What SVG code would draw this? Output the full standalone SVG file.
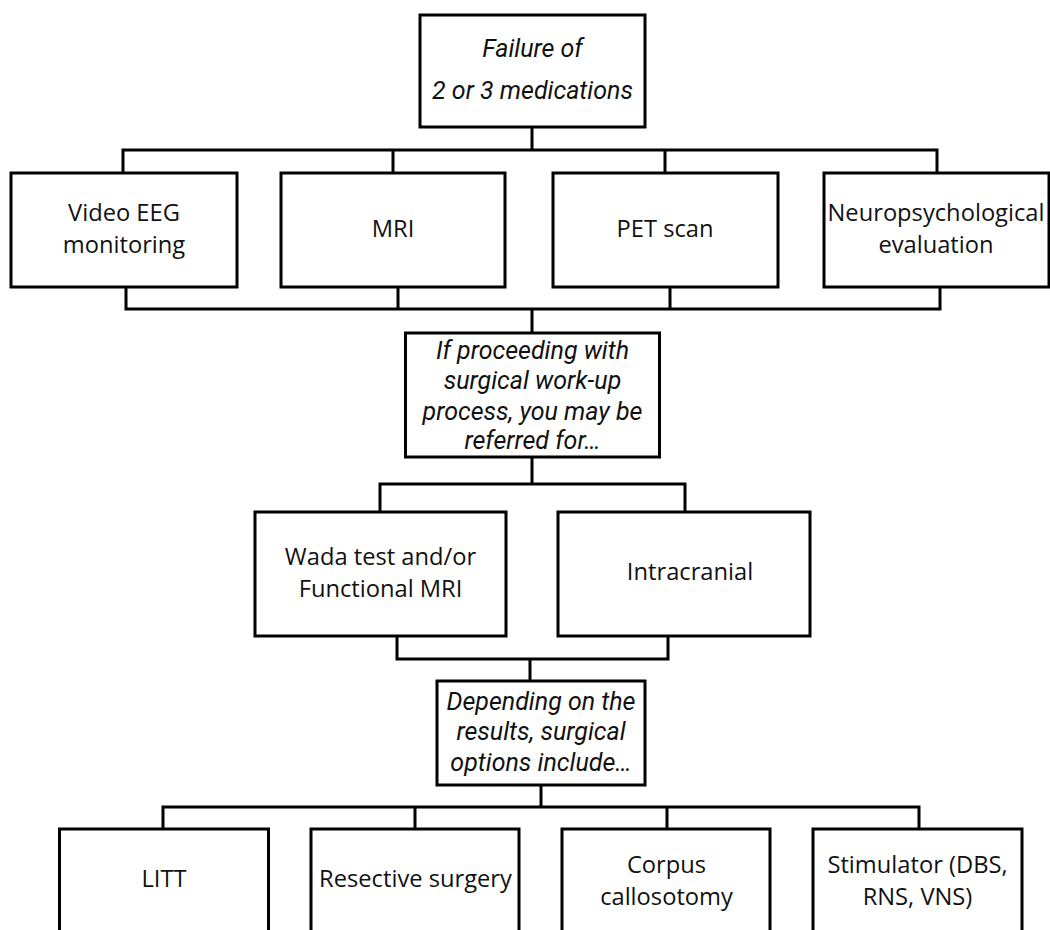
<svg xmlns="http://www.w3.org/2000/svg" width="1050" height="930" viewBox="0 0 1050 930">
<style>
.box{fill:#fff;stroke:#000;stroke-width:3}
.t{font-family:"Open Sans","Noto Sans","Liberation Sans",sans-serif;font-size:23.7px;fill:#111;text-anchor:middle}
.i{font-family:Roboto,"Liberation Sans",sans-serif;font-style:italic;font-size:25px}
.c{fill:none;stroke:#000;stroke-width:3;stroke-linecap:square}
</style>
<rect width="1050" height="930" fill="#fff"/>
<g id="connectors">
<path class="c" d="M532,127V150M123,150H937M123,150V173M393,150V173M665,150V173M937,150V173"/>
<path class="c" d="M126,287V309M398,287V309M670,287V309M940,287V309M126,309H940M532,309V333"/>
<path class="c" d="M532,457V484M380,484H685M380,484V512M685,484V512"/>
<path class="c" d="M397,636V659M668,636V659M397,659H668M530,659V681"/>
<path class="c" d="M541,785V807M163,807H919M163,807V829M415,807V829M667,807V829M919,807V829"/>
</g>
<g id="n-failure">
<rect class="box" x="420" y="15" width="225" height="112"/>
<text class="t i" x="532.5" y="57">Failure of</text>
<text class="t i" x="532.5" y="99">2 or 3 medications</text>
</g>
<g id="n-video">
<rect class="box" x="11" y="173" width="226" height="114"/>
<text class="t" x="124" y="221">Video EEG</text>
<text class="t" x="124" y="253">monitoring</text>
</g>
<g id="n-mri">
<rect class="box" x="281" y="173" width="224" height="114"/>
<text class="t" x="393" y="237">MRI</text>
</g>
<g id="n-pet">
<rect class="box" x="553" y="173" width="225" height="114"/>
<text class="t" x="665" y="237">PET scan</text>
</g>
<g id="n-neuro">
<rect class="box" x="824" y="173" width="225" height="114"/>
<text class="t" x="936" y="221">Neuropsychological</text>
<text class="t" x="936" y="253">evaluation</text>
</g>
<g id="n-proceed">
<rect class="box" x="405.5" y="333" width="254" height="124"/>
<text class="t i" x="532.5" y="358.5">If proceeding with</text>
<text class="t i" x="532.5" y="389">surgical work-up</text>
<text class="t i" x="532.5" y="419.5">process, you may be</text>
<text class="t i" x="532.5" y="449">referred for…</text>
</g>
<g id="n-wada">
<rect class="box" x="255" y="512" width="251" height="124"/>
<text class="t" x="380.5" y="565">Wada test and/or</text>
<text class="t" x="380.5" y="597">Functional MRI</text>
</g>
<g id="n-intracranial">
<rect class="box" x="558" y="512" width="252" height="124"/>
<text class="t" x="690" y="580">Intracranial</text>
</g>
<g id="n-depending">
<rect class="box" x="437" y="681" width="208" height="104"/>
<text class="t i" x="541" y="709.5">Depending on the</text>
<text class="t i" x="541" y="740">results, surgical</text>
<text class="t i" x="541" y="770.5">options include…</text>
</g>
<g id="n-litt">
<rect class="box" x="59.5" y="829" width="209" height="130"/>
<text class="t" x="164" y="887">LITT</text>
</g>
<g id="n-resective">
<rect class="box" x="311" y="829" width="208" height="130"/>
<text class="t" x="415.5" y="887">Resective surgery</text>
</g>
<g id="n-corpus">
<rect class="box" x="562" y="829" width="208" height="130"/>
<text class="t" x="666.5" y="873">Corpus</text>
<text class="t" x="666.5" y="905">callosotomy</text>
</g>
<g id="n-stim">
<rect class="box" x="813" y="829" width="209" height="130"/>
<text class="t" x="917.5" y="873">Stimulator (DBS,</text>
<text class="t" x="917.5" y="905">RNS, VNS)</text>
</g>
</svg>
